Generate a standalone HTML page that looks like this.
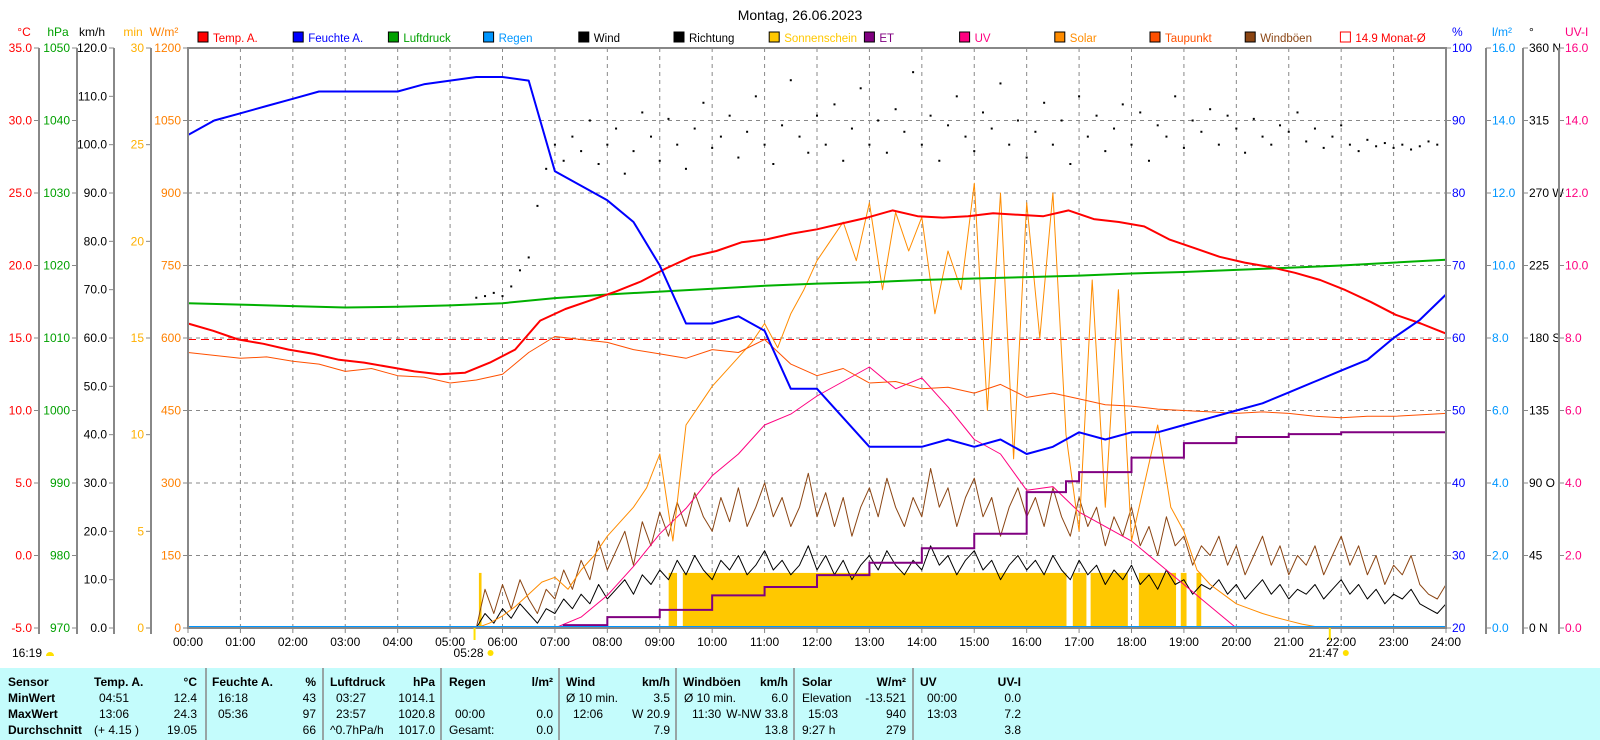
<!DOCTYPE html>
<html><head><meta charset="utf-8"><style>
html,body{margin:0;padding:0;background:#fff;}
svg{display:block;font-family:"Liberation Sans",sans-serif;}
</style></head><body>
<svg id="c" width="1600" height="740" viewBox="0 0 1600 740" xmlns="http://www.w3.org/2000/svg"></svg>
<script>
// ---- data ----
const tempHalfHourly=[16.0,15.5,14.9,14.6,14.2,13.9,13.5,13.3,13.0,12.7,12.5,12.6,13.3,14.2,16.2,17.0,17.6,18.2,18.9,19.8,20.6,21.0,21.6,21.8,22.2,22.5,22.9,23.3,23.8,23.4,23.3,23.4,23.6,23.5,23.4,23.8,23.2,23.0,22.7,21.8,21.2,20.6,20.2,19.9,19.5,19.0,18.3,17.5,16.6,16.0,15.3];
const humHalfHourly=[88,90,91,92,93,94,94,94,94,95,95.5,96,96,95.5,83,81,79,76,70,62,62,63,61,53,53,49,45,45,45,46,45,46,44,45,47,46,47,47,48,49,50,51,52.5,54,55.5,57,60,62.5,66];
const pressHourly=[1014.8,1014.6,1014.4,1014.2,1014.3,1014.5,1014.8,1015.5,1016.0,1016.4,1016.8,1017.2,1017.5,1017.7,1018.0,1018.2,1018.4,1018.6,1018.9,1019.1,1019.4,1019.7,1020.0,1020.4,1020.8];
const dewHalfHourly=[14.0,13.8,13.6,13.7,13.4,13.2,12.7,12.9,12.4,12.3,11.9,12.1,12.5,14.0,15.1,14.9,14.7,14.2,13.9,13.6,14.2,14.0,14.9,13.2,12.4,12.9,11.9,12.0,11.5,11.6,11.2,11.8,10.9,11.2,10.8,10.4,10.3,10.1,10.0,9.9,9.8,9.9,9.8,9.6,9.5,9.6,9.6,9.7,9.8];
const solarStart=5.5, solarEnd=21.75;
const solar15=[0,10,25,45,70,95,105,80,120,150,190,220,250,290,360,180,420,460,500,530,560,590,630,580,650,700,760,800,840,760,880,700,860,780,850,650,780,700,920,450,900,350,880,600,900,400,200,720,250,700,180,300,420,250,200,120,90,70,50,40,30,22,15,8,3,0];
const uvStart=7.0, uvEnd=20.0;
const uvHalfHourly=[0,0.3,0.9,1.7,2.6,3.3,4.2,4.8,5.6,5.9,6.4,6.8,7.2,6.6,6.9,6.1,5.2,4.8,3.8,3.9,3.2,2.8,2.4,1.8,1.2,0.6,0];
const windStart=5.5, windEnd=24;
const wind10=[0,3,1,4,2,5,3,1,4,3,6,4,7,5,9,6,8,10,7,11,9,12,10,14,11,15,12,10,14,12,15,11,13,16,12,14,11,13,17,12,15,11,14,10,13,15,12,16,13,11,14,12,17,13,15,11,14,16,12,14,10,13,15,12,14,11,15,12,10,14,11,13,9,12,10,13,9,11,8,12,9,10,7,9,8,10,7,9,6,8,10,7,9,6,8,7,9,6,8,10,7,9,6,8,5,7,6,8,5,4,3,5];
const gust10=[0,8,3,9,4,10,6,3,8,6,12,8,14,10,18,12,16,20,13,22,17,24,19,26,21,28,23,20,27,22,29,21,25,30,23,27,21,25,32,23,28,21,27,19,25,29,23,31,25,21,27,23,33,25,29,21,27,31,23,27,19,25,29,23,27,21,29,23,19,27,21,25,17,23,19,25,17,21,15,23,17,19,13,17,15,19,13,17,11,15,19,13,17,11,15,13,17,11,15,19,13,17,11,15,9,13,11,15,9,7,6,9];
const dirStart=5.5, dirEnd=24;
const dir10=[205,206,208,206,212,222,230,262,285,300,290,305,296,315,288,300,310,282,296,320,305,290,316,300,285,310,326,298,305,318,292,308,330,300,288,312,340,305,295,318,300,325,290,310,335,300,315,295,322,308,345,300,318,290,312,330,305,296,320,310,338,300,315,292,308,326,300,315,288,330,305,318,296,310,325,300,320,290,312,305,330,298,315,308,322,300,318,310,295,316,305,300,312,308,320,302,310,298,305,312,300,296,303,299,301,298,300,297,299,302,300,310];
const sunStarts=[5.55,9.17,9.44,16.88,17.22,18.14,18.94,19.24];
const sunEnds=[5.60,9.33,16.76,17.14,17.93,18.85,19.05,19.33];
const sunMinutes=[2.85,2.85,2.85,2.85,2.85,2.85,2.85,2.85];
const etHours=[7.15,8,9,10,11,12,13,14,15,16,16.75,17,18,19,20,21,22,24];
const etValues=[0.08,0.3,0.5,0.9,1.13,1.46,1.8,2.2,2.6,3.75,4.05,4.3,4.7,5.1,5.27,5.35,5.4,5.4];
const monthAvgTemp=14.9;
const timeLabels=["00:00","01:00","02:00","03:00","04:00","05:00","06:00","07:00","08:00","09:00","10:00","11:00","12:00","13:00","14:00","15:00","16:00","17:00","18:00","19:00","20:00","21:00","22:00","23:00","24:00"];

// ---- geometry ----
const X0=188,X1=1446,Y0=48,Y1=628;
const NS="http://www.w3.org/2000/svg";
const svg=document.getElementById('c');
function el(tag,attrs,parent){const e=document.createElementNS(NS,tag);for(const k in attrs)e.setAttribute(k,attrs[k]);(parent||svg).appendChild(e);return e;}
function tx(h){return X0+h/24*(X1-X0);}
function lin(min,max){return v=>Y1-(v-min)/(max-min)*(Y1-Y0);}
const yT=lin(-5,35),yP=lin(970,1050),yK=lin(0,120),yM=lin(0,30),yW=lin(0,1200),yH=lin(20,100),yL=lin(0,16),yD=lin(0,360),yU=lin(0,16);
function txt(x,y,s,attrs,name){const t=el('text',Object.assign({x:x,y:y,'font-size':12},attrs||{}));t.textContent=s;


return t;}

// title
txt(800,20,"Montag, 26.06.2023",{'text-anchor':'middle','font-size':14,fill:'#000'},'chart-title');

// grid
const grid=el('g',{});


for(let i=1;i<24;i++){el('line',{x1:tx(i),x2:tx(i),y1:Y0,y2:Y1,stroke:'#888','stroke-dasharray':'4,4','stroke-width':1},grid);}
for(let i=1;i<8;i++){const y=Y0+i*(Y1-Y0)/8;el('line',{x1:X0,x2:X1,y1:y,y2:y,stroke:'#888','stroke-dasharray':'4,4','stroke-width':1},grid);}

// left axes
function leftAxis(xl,min,max,step,fmt,color,name,unit,ux){
 const g=el('g',{});
 
 
 const f=lin(min,max);
 if(xl!==X0) el('line',{x1:xl,x2:xl,y1:Y0,y2:Y1+6,stroke:'#888','stroke-width':2},g);
 for(let v=min;v<=max+1e-9;v+=step){const y=f(v);el('line',{x1:xl-5,x2:xl,y1:y,y2:y,stroke:'#888'},g);
  const t=txt(xl-7,y+4,fmt(v),{'text-anchor':'end',fill:color},name+'-tick');g.appendChild(t);}
 const u=txt(ux,36,unit,{'text-anchor':'middle',fill:color},name+'-unit');g.appendChild(u);
}
leftAxis(39,-5,35,5,v=>v.toFixed(1),'#ff0000','temp-axis','°C',24);
leftAxis(77,970,1050,10,v=>v.toFixed(0),'#00a000','pressure-axis','hPa',58);
leftAxis(114,0,120,10,v=>v.toFixed(1),'#000','wind-axis','km/h',92);
leftAxis(151,0,30,5,v=>v.toFixed(0),'#ffb000','sunshine-axis','min',133);
leftAxis(X0,0,1200,150,v=>v.toFixed(0),'#ff8000','solar-axis','W/m²',164);

// right axes
function rightAxis(xl,min,max,step,fmt,color,name,unit){
 const g=el('g',{});
 
 
 const f=lin(min,max);
 if(xl!==X1) el('line',{x1:xl,x2:xl,y1:Y0,y2:Y1+6,stroke:'#888','stroke-width':2},g);
 for(let i=0,v=min;v<=max+1e-9;v+=step,i++){const y=f(v);el('line',{x1:xl,x2:xl+5,y1:y,y2:y,stroke:'#888'},g);
  const t=txt(xl+6,y+4,fmt(v,i),{fill:color},name+'-tick');g.appendChild(t);}
 const u=txt(xl+6,36,unit,{fill:color},name+'-unit');g.appendChild(u);
}
rightAxis(X1,20,100,10,v=>v.toFixed(0),'#0000ff','humidity-axis','%');
rightAxis(1486,0,16,2,v=>v.toFixed(1),'#0096ff','rain-axis','l/m²');
const dirNames=["N","","O","","S","","W","","N"];
rightAxis(1523,0,360,45,(v,i)=>v.toFixed(0)+(dirNames[i]?' '+dirNames[i]:''),'#000','direction-axis','°');
rightAxis(1559,0,16,2,v=>v.toFixed(1),'#ff0080','uv-axis','UV-I');

// time labels
timeLabels.forEach((s,i)=>{el('line',{x1:tx(i),x2:tx(i),y1:Y1,y2:Y1+5,stroke:'#888'});txt(tx(i),646,s,{'text-anchor':'middle'},'time-label');});

// series helpers
function series(vals,t0,t1,yf,color,w,name){
 const n=vals.length;const pts=vals.map((v,i)=>tx(t0+i*(t1-t0)/(n-1)).toFixed(1)+','+yf(v).toFixed(1)).join(' ');
 const p=el('polyline',{points:pts,fill:'none',stroke:color,'stroke-width':w,'stroke-linejoin':'round'});
 
 
 return p;}

// sunshine bars
sunStarts.forEach((s,i)=>{const r=el('rect',{x:tx(s),y:yM(sunMinutes[i]),width:Math.max(2,tx(sunEnds[i])-tx(s)),height:Y1-yM(sunMinutes[i]),fill:'#ffc800'});
 
 });

// month average
const ma=el('line',{x1:X0,x2:X1,y1:yT(monthAvgTemp),y2:yT(monthAvgTemp),stroke:'#ff0000','stroke-dasharray':'8,5','stroke-width':1});



series(gust10,windStart,windEnd,yK,'#8b4513',1,'gust-line');
series(wind10,windStart,windEnd,yK,'#000',1,'wind-line');
series(uvHalfHourly,uvStart,uvEnd,yU,'#ff0080',1,'uv-line');
series(solar15,solarStart,solarEnd,yW,'#ff8c00',1,'solar-line');
series(dewHalfHourly,0,24,yT,'#ff5000',1,'dewpoint-line');
// ET staircase
{let pts=[];etHours.forEach((h,i)=>{if(i>0)pts.push(tx(h)+','+yL(etValues[i-1]));pts.push(tx(h)+','+yL(etValues[i]));});
 const p=el('polyline',{points:pts.join(' '),fill:'none',stroke:'#800080','stroke-width':2});
 
 }
series(pressHourly,0,24,yP,'#00b000',2,'pressure-line');
series(tempHalfHourly,0,24,yT,'#ff0000',2,'temperature-line');
series(humHalfHourly,0,24,yH,'#0000ff',2,'humidity-line');
// direction dots
dir10.forEach((v,i)=>{const r=el('rect',{x:tx(dirStart+i*(dirEnd-dirStart)/(dir10.length-1))-1,y:yD(v)-1,width:2,height:2,fill:'#000'});
 
 });
// rain line
const rl=el('line',{x1:X0,x2:X1,y1:Y1-1,y2:Y1-1,stroke:'#0096ff','stroke-width':2});



// frame
const fr=el('rect',{x:X0,y:Y0,width:X1-X0,height:Y1-Y0,fill:'none',stroke:'#888','stroke-width':2});



// sunrise/sunset
[[5+28/60,"05:28"],[21+47/60,"21:47"]].forEach(([h,s])=>{el('line',{x1:tx(h),x2:tx(h),y1:Y1,y2:Y1+12,stroke:'#ffe000','stroke-width':2});
 txt(tx(h)-6,657,s,{'text-anchor':'middle'},'sun-time');el('circle',{cx:tx(h)+16,cy:653,r:3,fill:'#ffe000'});});
txt(12,657,"16:19",{},'day-length');el('path',{d:'M46,656 a4,4 0 0 1 8,0 z',fill:'#ffe000'});

// legend
const legend=[["Temp. A.","#ff0000"],["Feuchte A.","#0000ff"],["Luftdruck","#00a000"],["Regen","#0096ff"],["Wind","#000"],["Richtung","#000"],["Sonnenschein","#ffc800"],["ET","#800080"],["UV","#ff0080"],["Solar","#ff8c00"],["Taupunkt","#ff5000"],["Windböen","#8b4513"]];
legend.forEach(([s,c],i)=>{const x=198+i*95.2;const g=el('g',{});
 
 
 el('rect',{x:x,y:32,width:10,height:10,fill:c,stroke:'#000'},g);
 const t=txt(x+15,42,s,{fill:c,'font-size':11.5},'legend-label');g.appendChild(t);});
{const x=198+12*95.2;el('rect',{x:x,y:32,width:10,height:10,fill:'none',stroke:'#ff0000'});txt(x+15,42,"14.9 Monat-Ø",{fill:'#ff0000','font-size':11.5},'legend-label');}
</script>
<div style="position:absolute;left:0;top:668px;width:1600px;height:72px;background:#c4fcfc;font-family:'Liberation Sans',sans-serif;font-size:12px;">
<svg width="1600" height="72" style="position:absolute;left:0;top:0">
<g stroke="#888" stroke-width="1.5"><line x1="206" y1="0" x2="206" y2="72"/><line x1="323" y1="0" x2="323" y2="72"/><line x1="441" y1="0" x2="441" y2="72"/><line x1="559" y1="0" x2="559" y2="72"/><line x1="676" y1="0" x2="676" y2="72"/><line x1="794" y1="0" x2="794" y2="72"/><line x1="913" y1="0" x2="913" y2="72"/></g>
<g font-size="12" font-family="Liberation Sans, sans-serif">
<g font-weight="bold">
<text x="8" y="18">Sensor</text><text x="8" y="34">MinWert</text><text x="8" y="50">MaxWert</text><text x="8" y="66">Durchschnitt</text>
<text x="94" y="18">Temp. A.</text><text x="197" y="18" text-anchor="end">°C</text>
<text x="212" y="18">Feuchte A.</text><text x="316" y="18" text-anchor="end">%</text>
<text x="330" y="18">Luftdruck</text><text x="435" y="18" text-anchor="end">hPa</text>
<text x="449" y="18">Regen</text><text x="553" y="18" text-anchor="end">l/m²</text>
<text x="566" y="18">Wind</text><text x="670" y="18" text-anchor="end">km/h</text>
<text x="683" y="18">Windböen</text><text x="788" y="18" text-anchor="end">km/h</text>
<text x="802" y="18">Solar</text><text x="906" y="18" text-anchor="end">W/m²</text>
<text x="920" y="18">UV</text><text x="1021" y="18" text-anchor="end">UV-I</text>
</g>
<text x="99" y="34">04:51</text><text x="197" y="34" text-anchor="end">12.4</text>
<text x="99" y="50">13:06</text><text x="197" y="50" text-anchor="end">24.3</text>
<text x="94" y="66">(+ 4.15 )</text><text x="197" y="66" text-anchor="end">19.05</text>
<text x="218" y="34">16:18</text><text x="316" y="34" text-anchor="end">43</text>
<text x="218" y="50">05:36</text><text x="316" y="50" text-anchor="end">97</text>
<text x="316" y="66" text-anchor="end">66</text>
<text x="336" y="34">03:27</text><text x="435" y="34" text-anchor="end">1014.1</text>
<text x="336" y="50">23:57</text><text x="435" y="50" text-anchor="end">1020.8</text>
<text x="330" y="66">^0.7hPa/h</text><text x="435" y="66" text-anchor="end">1017.0</text>
<text x="455" y="50">00:00</text><text x="553" y="50" text-anchor="end">0.0</text>
<text x="449" y="66">Gesamt:</text><text x="553" y="66" text-anchor="end">0.0</text>
<text x="566" y="34">Ø 10 min.</text><text x="670" y="34" text-anchor="end">3.5</text>
<text x="573" y="50">12:06</text><text x="670" y="50" text-anchor="end">W 20.9</text>
<text x="670" y="66" text-anchor="end">7.9</text>
<text x="684" y="34">Ø 10 min.</text><text x="788" y="34" text-anchor="end">6.0</text>
<text x="692" y="50">11:30</text><text x="788" y="50" text-anchor="end">W-NW 33.8</text>
<text x="788" y="66" text-anchor="end">13.8</text>
<text x="802" y="34">Elevation</text><text x="906" y="34" text-anchor="end">-13.521</text>
<text x="808" y="50">15:03</text><text x="906" y="50" text-anchor="end">940</text>
<text x="802" y="66">9:27 h</text><text x="906" y="66" text-anchor="end">279</text>
<text x="927" y="34">00:00</text><text x="1021" y="34" text-anchor="end">0.0</text>
<text x="927" y="50">13:03</text><text x="1021" y="50" text-anchor="end">7.2</text>
<text x="1021" y="66" text-anchor="end">3.8</text>
</g></svg></div>
</body></html>
